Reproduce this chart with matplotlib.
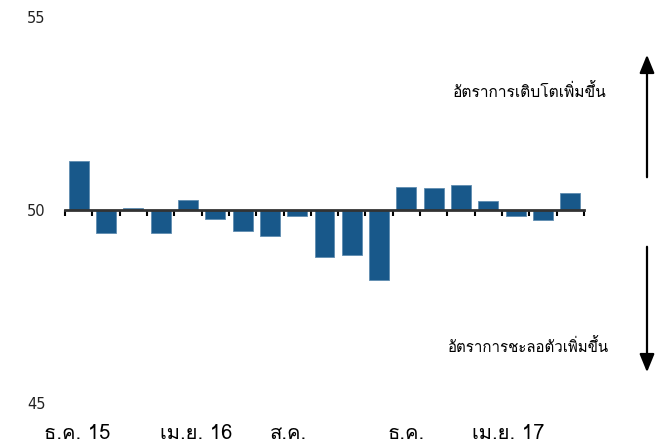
import matplotlib
matplotlib.use("Agg")
import matplotlib.pyplot as plt
from matplotlib import font_manager
from matplotlib.ft2font import FT2Font

# ค่า PMI รายเดือน ธ.ค. 58 - มิ.ย. 60
months = ["ธ.ค. 15", "ม.ค.", "ก.พ.", "มี.ค.", "เม.ย. 16", "พ.ค.", "มิ.ย.", "ก.ค.",
          "ส.ค.", "ก.ย.", "ต.ค.", "พ.ย.", "ธ.ค.", "ม.ค.", "ก.พ.", "มี.ค.",
          "เม.ย. 17", "พ.ค.", "มิ.ย."]
values = [51.27, 49.41, 50.04, 49.41, 50.25, 49.77, 49.46, 49.33, 49.85, 48.79,
          48.84, 48.18, 50.59, 50.57, 50.65, 50.23, 49.85, 49.74, 50.44]
shown_idx = [0, 4, 8, 12, 16]
up_text = "อัตราการเติบโตเพิ่มขึ้น"
down_text = "อัตราการชะลอตัวเพิ่มขึ้น"
base = 50

# เลื่อนป้ายแกน x เล็กน้อย (พิกเซล) ให้ตรงกับต้นฉบับ
label_shift = [-1, 8, -9, 0, -8]


def thai_family():
    # หาฟอนต์ที่มีอักษรไทย
    for f in font_manager.fontManager.ttflist:
        try:
            if 0x0E01 in FT2Font(f.fname).get_charmap():
                return f.name
        except Exception:
            pass
    return "DejaVu Sans"


thai = [thai_family(), "DejaVu Sans"]

fig = plt.figure(figsize=(6.64, 4.43), dpi=100)
ax = fig.add_axes([65 / 664, 40 / 443, 519 / 664, 386 / 443])

x = list(range(len(values)))
heights = [v - base for v in values]
ax.bar(x, heights, bottom=base, width=0.73, color="#18588a",
       edgecolor="#5f8db0", linewidth=0.6)

ax.set_xlim(-0.45, 18.5)
ax.set_ylim(45, 55)

for s in ["top", "right", "left"]:
    ax.spines[s].set_visible(False)
ax.spines["bottom"].set_position(("data", base))
ax.spines["bottom"].set_color("#333333")
ax.spines["bottom"].set_linewidth(2)

ax.set_xticks([i - 0.5 for i in range(len(values) + 1)])
ax.set_xticklabels([])
ax.tick_params(axis="x", direction="out", length=4, width=1.5, color="black")

ax.set_yticks([45, 50, 55])
ax.tick_params(axis="y", length=0, pad=14, labelsize=10.5, labelcolor="#222222")

for i, dx in zip(shown_idx, label_shift):
    ax.annotate(months[i], xy=(i, 45), xycoords="data", xytext=(dx, -36),
                textcoords="offset pixels", ha="center", va="baseline",
                fontsize=14.5, family=thai, annotation_clip=False)

# ลูกศร
ax.annotate("", xy=(647, 391), xycoords="figure pixels",
            xytext=(647, 263), textcoords="figure pixels",
            arrowprops=dict(arrowstyle="-|>,head_length=1.1,head_width=0.45",
                            color="black", lw=1.6))
ax.annotate("", xy=(647, 68), xycoords="figure pixels",
            xytext=(647, 199), textcoords="figure pixels",
            arrowprops=dict(arrowstyle="-|>,head_length=1.1,head_width=0.45",
                            color="black", lw=1.6))
fig.text(607 / 664, 351 / 443, up_text, ha="right", va="center",
         fontsize=11.2, family=thai)
fig.text(609 / 664, 96 / 443, down_text, ha="right", va="center",
         fontsize=10.8, family=thai)

fig.savefig("out.png", dpi=100)
